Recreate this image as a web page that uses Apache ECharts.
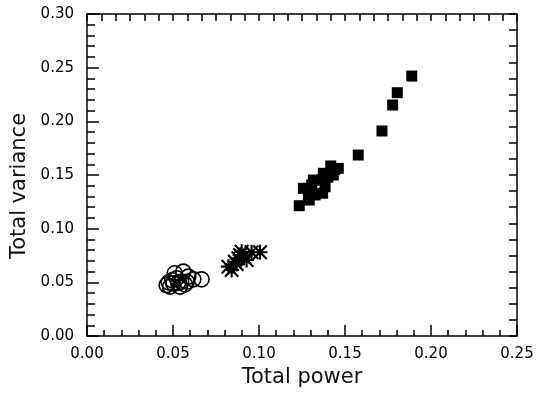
<!DOCTYPE html>
<html>
<head>
<meta charset="utf-8">
<script src="https://cdn.jsdelivr.net/npm/echarts@6/dist/echarts.min.js"></script>
<style>
  html, body { margin: 0; padding: 0; background: #fff; }
  #chart { width: 541px; height: 393px; }
</style>
</head>
<body>
<div id="chart"></div>
<script>
// [total power, total variance]
const circlePoints = [
  [0.0666, 0.0528], [0.0618, 0.0528], [0.0560, 0.0600], [0.0502, 0.0490],
  [0.0483, 0.0460], [0.0521, 0.0538], [0.0580, 0.0506], [0.0540, 0.0460],
  [0.0510, 0.0584], [0.0589, 0.0553], [0.0463, 0.0475], [0.0548, 0.0506],
  [0.0495, 0.0520], [0.0530, 0.0495], [0.0570, 0.0480], [0.0475, 0.0500]
]
const starPoints = [
  [0.1006, 0.0780], [0.0957, 0.0780], [0.0822, 0.0646], [0.0841, 0.0615],
  [0.0899, 0.0785], [0.0909, 0.0739], [0.0860, 0.0692], [0.0890, 0.0755],
  [0.0928, 0.0708], [0.0880, 0.0724], [0.0870, 0.0670]
]
const squarePoints = [
  [0.1888, 0.2422], [0.1804, 0.2267], [0.1777, 0.2152], [0.1715, 0.1910],
  [0.1577, 0.1686], [0.1417, 0.1584], [0.1461, 0.1562], [0.1432, 0.1500],
  [0.1374, 0.1516], [0.1364, 0.1453], [0.1316, 0.1453], [0.1384, 0.1391],
  [0.1306, 0.1407], [0.1258, 0.1376], [0.1287, 0.1314], [0.1370, 0.1330],
  [0.1326, 0.1314], [0.1292, 0.1267], [0.1234, 0.1214], [0.1400, 0.1480],
  [0.1440, 0.1550]
]
const xTickLabels = ['0.00', '0.05', '0.10', '0.15', '0.20', '0.25']
const yTickLabels = ['0.00', '0.05', '0.10', '0.15', '0.20', '0.25', '0.30']

const asterisk = 'path://M43 0L57 0L57 100L43 100Z M0 43L100 43L100 57L0 57Z ' +
  'M0 10L10 0L100 90L90 100Z M90 0L100 10L10 100L0 90Z'

const font = 'DejaVu Sans'
const axisLine = { show: true, onZero: false, lineStyle: { color: '#000', width: 1.5 } }
const tickStyle = { color: '#000', width: 1.5 }

const chart = echarts.init(document.getElementById('chart'))
chart.setOption({
  animation: false,
  grid: { left: 87, right: 24, top: 14, bottom: 57 },
  xAxis: [
    {
      type: 'value', min: 0, max: 0.25, interval: 0.05,
      name: 'Total power', nameLocation: 'middle', nameGap: 26,
      nameTextStyle: { fontFamily: font, fontSize: 21, color: '#111' },
      axisLine,
      axisTick: { inside: true, length: 11, lineStyle: tickStyle },
      minorTick: { show: true, splitNumber: 5, length: 6, lineStyle: tickStyle },
      axisLabel: {
        margin: 11, fontFamily: font, fontSize: 15, color: '#000',
        formatter: (v) => xTickLabels[Math.round(v / 0.05)]
      },
      splitLine: { show: false }
    },
    {
      type: 'value', position: 'top', min: 0, max: 0.25, interval: 0.25 / 30,
      axisLine,
      axisTick: { inside: true, length: 7, lineStyle: tickStyle },
      axisLabel: { show: false },
      splitLine: { show: false }
    }
  ],
  yAxis: [
    {
      type: 'value', min: 0, max: 0.3, interval: 0.05,
      name: 'Total variance', nameLocation: 'middle', nameGap: 55, nameRotate: 90,
      nameTextStyle: { fontFamily: font, fontSize: 21, color: '#111', padding: [0, 22, 0, 0] },
      axisLine,
      axisTick: { inside: true, length: 12, lineStyle: tickStyle },
      minorTick: { show: true, splitNumber: 5, length: 8, lineStyle: tickStyle },
      axisLabel: {
        margin: 13, fontFamily: font, fontSize: 15, color: '#000',
        formatter: (v) => yTickLabels[Math.round(v / 0.05)]
      },
      splitLine: { show: false }
    },
    {
      type: 'value', position: 'right', min: 0, max: 0.3, interval: 0.015,
      axisLine,
      axisTick: { inside: true, length: 8, lineStyle: tickStyle },
      axisLabel: { show: false },
      splitLine: { show: false }
    }
  ],
  series: [
    {
      type: 'scatter', data: circlePoints, symbol: 'circle', symbolSize: 15,
      itemStyle: { color: 'rgba(0,0,0,0)', borderColor: '#000', borderWidth: 1.6, opacity: 1 }
    },
    {
      type: 'scatter', data: starPoints, symbol: asterisk, symbolSize: 15,
      itemStyle: { color: '#000', opacity: 1 }
    },
    {
      type: 'scatter', data: squarePoints, symbol: 'rect', symbolSize: 11,
      itemStyle: { color: '#000', opacity: 1 }
    }
  ]
})
</script>
</body>
</html>
